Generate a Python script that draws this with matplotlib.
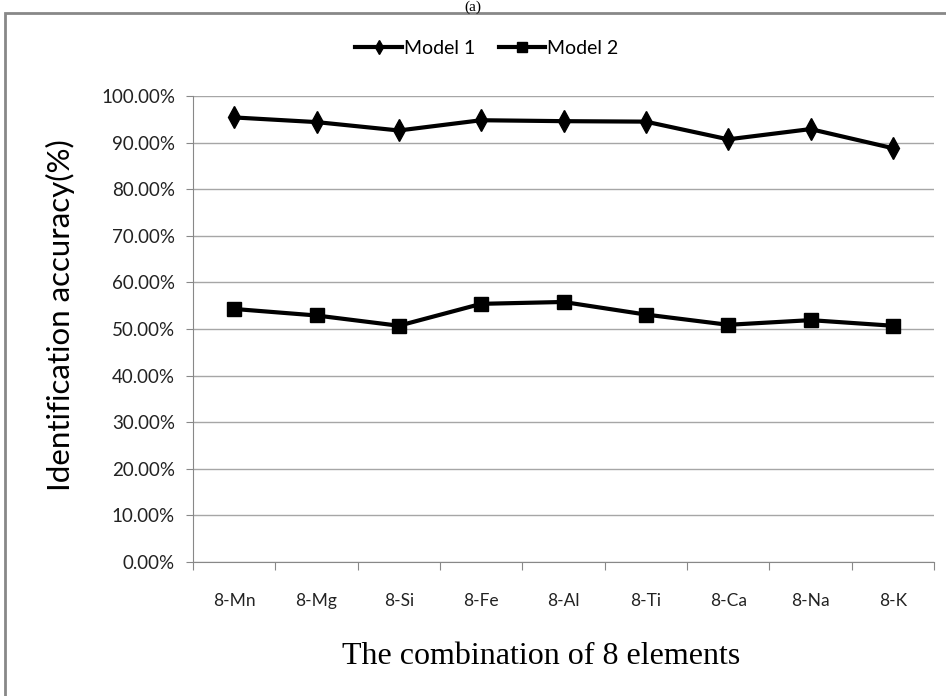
import numpy as np
import matplotlib.pyplot as plt
from matplotlib.patches import Rectangle
from matplotlib.ticker import FixedLocator, PercentFormatter

categories = ["8-Mn", "8-Mg", "8-Si", "8-Fe", "8-Al", "8-Ti", "8-Ca", "8-Na", "8-K"]
model_1 = [95.4, 94.4, 92.6, 94.8, 94.6, 94.5, 90.7, 92.9, 88.8]
model_2 = [54.3, 52.9, 50.7, 55.4, 55.8, 53.1, 50.9, 51.9, 50.7]

plt.rcParams['font.family'] = ['Lato', 'DejaVu Sans']

fig = plt.figure(figsize=(9.46, 6.96), dpi=100)
ax = fig.add_axes([193/946, 1 - 562/696, (934 - 193)/946, (562 - 96)/696])

x = np.arange(len(categories))
ax.plot(x, model_1, color='black', lw=3, marker='d', ms=11, label='Model 1')
ax.plot(x, model_2, color='black', lw=3, marker='s', ms=10.5, label='Model 2')

ax.set_xlim(-0.5, len(categories) - 0.5)
ax.set_ylim(0, 100)
ax.set_yticks(np.arange(0, 101, 10))
ax.yaxis.set_major_formatter(PercentFormatter(decimals=2))
ax.grid(axis='y', color='#a6a6a6', lw=1)
ax.set_axisbelow(True)

# category labels in the middle, tick marks on the boundaries
ax.xaxis.set_major_locator(FixedLocator(np.arange(-0.5, len(categories), 1.0)))
ax.xaxis.set_minor_locator(FixedLocator(x))
ax.set_xticklabels([""] * (len(categories) + 1))
ax.set_xticklabels(categories, minor=True)
ax.tick_params(axis='x', which='minor', length=0, pad=22, labelsize=12.5, labelcolor='#222222')
ax.tick_params(axis='x', which='major', length=6, color='#888888')
ax.tick_params(axis='y', length=5, color='#888888', labelsize=13.5, labelcolor='#222222', pad=8)

for s in ['top', 'right']:
    ax.spines[s].set_visible(False)
for s in ['left', 'bottom']:
    ax.spines[s].set_color('#888888')

ax.set_ylabel('Identification accuracy(%)', fontsize=22.5)
ax.yaxis.set_label_coords(-0.159, 0.53)
ax.set_xlabel('The combination of 8 elements', fontsize=23, family='Liberation Serif')
ax.xaxis.set_label_coords(0.47, -0.172)

fig.legend(loc='center', bbox_to_anchor=(487/946, 1 - 48/696), ncol=2,
           frameon=False, fontsize=14, handlelength=2.4, columnspacing=1.2,
           handletextpad=0.1, markerscale=0.65)

# outer chart border
fig.patches.append(Rectangle((5/946, -0.05), 1.2, 1 - 13/696 + 0.05,
                             transform=fig.transFigure, fill=False,
                             edgecolor='#888888', lw=2))
fig.text(473/946, 0.999, '(a)', ha='center', va='top', fontsize=11,
         family='Liberation Serif')

fig.savefig('out.png', dpi=100)
